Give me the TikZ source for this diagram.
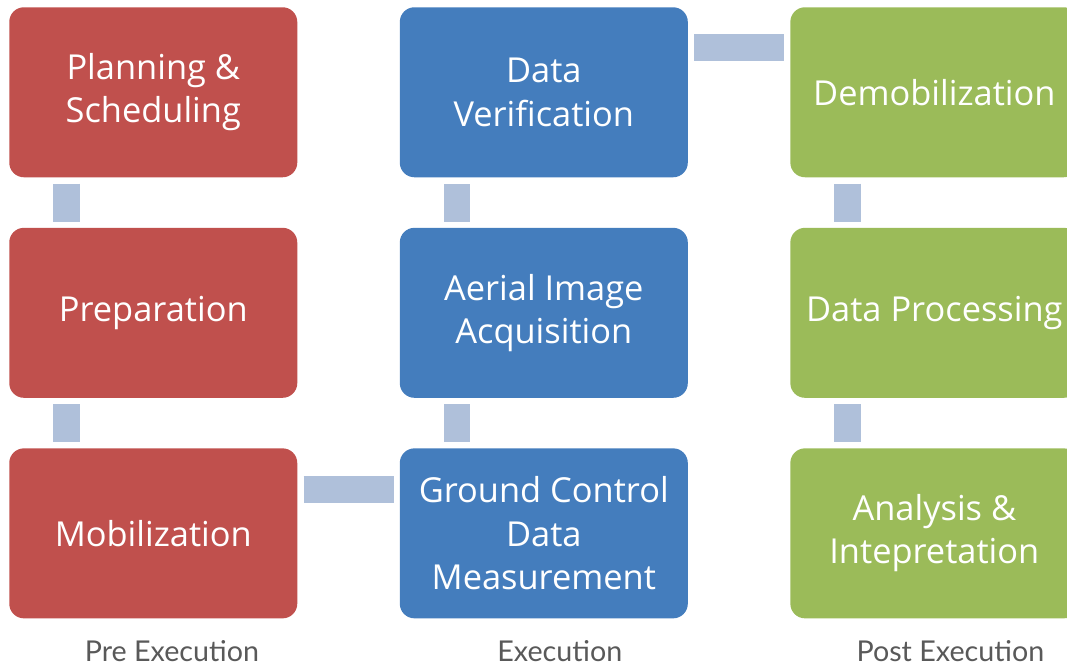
\documentclass[tikz,border=0pt]{standalone}
\usepackage{fontspec}
\setmainfont{Open Sans}
\newfontfamily\phasefont{Lato}
\usetikzlibrary{positioning}
\definecolor{stepred}{RGB}{192, 80, 77}
\definecolor{stepblue}{RGB}{68, 125, 189}
\definecolor{stepgreen}{RGB}{155, 187, 89}
\definecolor{linkblue}{RGB}{175, 192, 218}
\definecolor{phasegray}{RGB}{89, 89, 89}

\begin{document}
\begin{tikzpicture}[node distance=37.5pt and 76.5pt, x=0.75pt, y=-0.75pt]
    \tikzset{
        stepbox/.style={rounded corners=11pt, minimum width=216pt, minimum height=127.5pt, inner sep=0pt, text=white, align=center, font=\fontsize{25.8}{32.5}\selectfont},
        link/.style={linkblue, line width=20pt, shorten <=4.5pt, shorten >=4.5pt},
        phase/.style={text=phasegray, anchor=base, inner sep=0pt, font=\phasefont\fontsize{21.5}{24}\selectfont}
    }
    \useasboundingbox (0,0) rectangle (1067,665);
    % pre execution
    \node[stepbox, fill=stepred, anchor=north west] (plan) at (9,7) {Planning \&\\Scheduling};
    \node[stepbox, fill=stepred, below=of plan] (prep) {Preparation};
    \node[stepbox, fill=stepred, below=of prep] (mob) {Mobilization};
    % execution
    \node[stepbox, fill=stepblue, right=of plan] (verif) {Data\\Verification};
    \node[stepbox, fill=stepblue, right=of prep] (aerial) {Aerial Image\\Acquisition};
    \node[stepbox, fill=stepblue, right=of mob] (ground) {Ground Control\\Data\\Measurement};
    % post execution
    \node[stepbox, fill=stepgreen, right=of verif] (demob) {Demobilization};
    \node[stepbox, fill=stepgreen, right=of aerial] (proc) {Data Processing};
    \node[stepbox, fill=stepgreen, right=of ground] (analysis) {Analysis \&\\Intepretation};
    % links
    \draw[link] ([xshift=-65pt]plan.south) -- ([xshift=-65pt]prep.north);
    \draw[link] ([xshift=-65pt]prep.south) -- ([xshift=-65pt]mob.north);
    \draw[link] ([yshift=33pt]mob.east) -- ([yshift=33pt]ground.west);
    \draw[link] ([xshift=-65pt]ground.north) -- ([xshift=-65pt]aerial.south);
    \draw[link] ([xshift=-65pt]aerial.north) -- ([xshift=-65pt]verif.south);
    \draw[link] ([yshift=33.75pt]verif.east) -- ([yshift=33.75pt]demob.west);
    \draw[link] ([xshift=-65pt]demob.south) -- ([xshift=-65pt]proc.north);
    \draw[link] ([xshift=-65pt]proc.south) -- ([xshift=-65pt]analysis.north);
    % phase labels
    \node[phase] (pre) at ([xshift=14pt, yshift=-32.5pt]mob.south) {Pre Execution};
    \node[phase] (exec) at ([xshift=12pt, yshift=-32.5pt]ground.south) {Execution};
    \node[phase] (post) at ([xshift=12pt, yshift=-32.5pt]analysis.south) {Post Execution};
\end{tikzpicture}
\end{document}
